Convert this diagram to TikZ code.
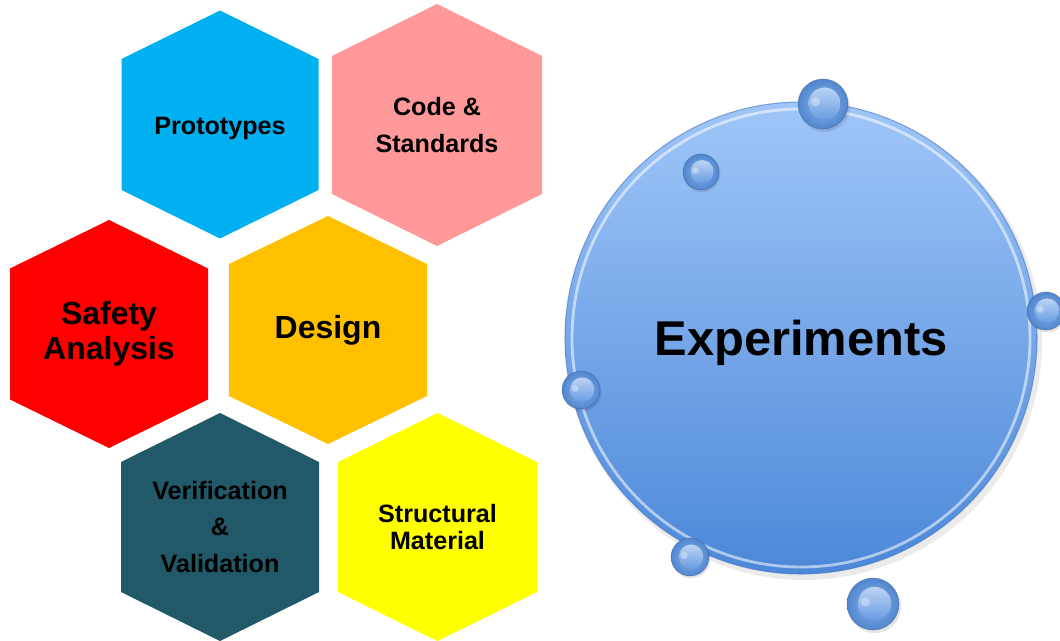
\documentclass[tikz,border=0pt]{standalone}
\usepackage{fontspec}
\setmainfont{Liberation Sans}
\usetikzlibrary{calc}
\definecolor{protoblue}{RGB}{0,176,240}
\definecolor{codepink}{RGB}{255,153,153}
\definecolor{safetyred}{RGB}{255,0,0}
\definecolor{designorange}{RGB}{255,192,0}
\definecolor{verifteal}{RGB}{33,89,104}
\definecolor{structyellow}{RGB}{255,255,0}
\definecolor{exptop}{RGB}{160,198,249}
\definecolor{expbottom}{RGB}{76,136,216}
\definecolor{exprim}{RGB}{70,120,190}
\definecolor{bubbleblue}{RGB}{88,146,224}
\tikzset{
    celltext/.style={
        font=\bfseries\fontsize{14.3}{21}\selectfont,
        align=center,
        text=black,
        inner sep=0pt
    },
    tightcelltext/.style={celltext, font=\bfseries\fontsize{14.3}{15}\selectfont},
    bigcelltext/.style={celltext, font=\bfseries\fontsize{18.2}{19.8}\selectfont},
    hubtext/.style={font=\bfseries\fontsize{27.8}{30}\selectfont, inner sep=0pt},
    rimlight/.style={draw=white, opacity=0.55, line width=1.6pt},
    rimedge/.style={draw=exprim, opacity=0.6, line width=0.6pt}
}
% hexagon cell: name, x, y, half width, half side, half height, colour, text style, text
\newcommand{\hexcell}[9]{%
    \fill[#7] (#2-#4,#3-#5) -- (#2,#3-#6) -- (#2+#4,#3-#5)
        -- (#2+#4,#3+#5) -- (#2,#3+#6) -- (#2-#4,#3+#5) -- cycle;
    \node[#8] (#1) at (#2,#3) {#9};
}
% small bead sitting on the rim: name, x, y, radius
\newcommand{\bead}[4]{%
    \coordinate (#1) at (#2,#3);
    \fill[black, opacity=0.1] ($(#1)+(0.06*#4,0.1*#4)$) circle (1.02*#4);
    \shade[inner color=bubbleblue!70!white, outer color=bubbleblue!92!black] (#1) circle (#4);
    \shade[top color=bubbleblue!40!white, bottom color=bubbleblue!90!white]
        ($(#1)+(0.06*#4,-0.02*#4)$) circle (0.64*#4);
    \fill[white, opacity=0.35] ($(#1)+(-0.3*#4,-0.08*#4)$) circle (0.18*#4);
    \draw[exprim!70!black, opacity=0.4, line width=0.4pt] (#1) circle (#4);
}

\begin{document}
\begin{tikzpicture}[x=0.02cm, y=-0.02cm]
    \useasboundingbox (0,0) rectangle (1060,641);

    % Hexagon cells
    \hexcell{proto}{220}{124.5}{98.5}{65.5}{114}{protoblue}{celltext, yshift=-0.07cm}{Prototypes}
    \hexcell{codes}{437}{125}{105}{69}{121}{codepink}{celltext}{Code \&\\Standards}
    \hexcell{safety}{109}{334}{99}{65.5}{114}{safetyred}{bigcelltext}{Safety\\Analysis}
    \hexcell{design}{328}{330}{99}{66}{114}{designorange}{celltext, font=\bfseries\fontsize{18.2}{20}\selectfont}{Design}
    \hexcell{vandv}{220}{527}{99}{65}{114}{verifteal}{celltext}{Verification\\\&\\Validation}
    \hexcell{struct}{437.5}{527}{99.5}{65}{114}{structyellow}{tightcelltext}{Structural\\Material}

    % Experiments hub
    \coordinate (hubc) at (801,338);
    \fill[black, opacity=0.08] ($(hubc)+(3,4)$) circle (238);
    \shade[top color=exptop, bottom color=expbottom] (hubc) circle (236);
    \draw[rimlight] (hubc) circle (229);
    \draw[rimedge] (hubc) circle (236);
    \node[hubtext] (expt) at ($(hubc)+(0,5)$) {Experiments};

    % Beads round the hub
    \bead{b1}{823}{104}{25}
    \bead{b2}{701}{172}{18}
    \bead{b3}{1046}{311}{19}
    \bead{b4}{581}{390}{19}
    \bead{b5}{690}{557}{19}
    \bead{b6}{873}{604}{26}
\end{tikzpicture}
\end{document}
